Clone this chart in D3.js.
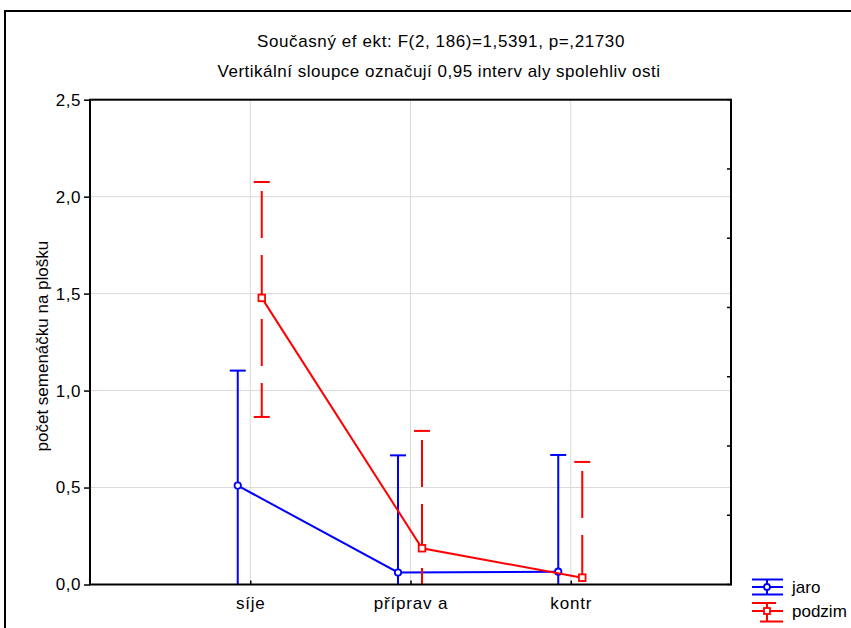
<!DOCTYPE html>
<html>
<head>
<meta charset="utf-8">
<script src="https://cdn.jsdelivr.net/npm/d3@7"></script>
<style>
  html, body { margin: 0; padding: 0; background: #fff; }
  svg { display: block; }
  text { font-family: "Liberation Sans", Arial, sans-serif; fill: #000; }
</style>
</head>
<body>
<svg id="chart" width="851" height="628"></svg>
<script>
// ---- data ----
const titleLines = ["Současný ef ekt: F(2, 186)=1,5391, p=,21730",
                    "Vertikální sloupce označují 0,95 interv aly  spolehliv osti"];
const yLabel = "počet semenáčku na plošku";
const categories = ["síje", "příprav a", "kontr"];
const yTicks = [0, 0.5, 1.0, 1.5, 2.0, 2.5];
const seriesNames = ["jaro", "podzim"];
const jaroMean  = [0.51, 0.062, 0.066];
const jaroLow   = [-0.083, -0.542, -0.536];
const jaroHigh  = [1.103, 0.666, 0.668];
const podzimMean = [1.478, 0.187, 0.035];
const podzimLow  = [0.864, -0.418, -0.562];
const podzimHigh = [2.076, 0.792, 0.632];
const rightTickIntervals = 7;

// ---- layout ----
const svg = d3.select("#chart");
const L = 90, R = 731, T = 99.7, B = 584.5;
const FONT = "Liberation Sans, Arial, sans-serif";
const x = d3.scalePoint().domain(categories).range([L, R]).padding(1);
const y = d3.scaleLinear().domain([0, 2.5]).range([B, T]);
const fmt = d => d.toFixed(1).replace(".", ",");

const series = [
  {name: seriesNames[0], mean: jaroMean, low: jaroLow, high: jaroHigh, color: "#0000ff", dx: -12.5, dash: null, marker: "circle"},
  {name: seriesNames[1], mean: podzimMean, low: podzimLow, high: podzimHigh, color: "#ff0000", dx: 11.5, dash: "47,17", marker: "square"}
];

// outer frame
svg.append("rect").attr("x", 5).attr("y", 11).attr("width", 900).attr("height", 700)
  .attr("fill", "none").attr("stroke", "#000").attr("stroke-width", 2);

// titles
svg.append("text").attr("x", 441).attr("y", 47).attr("text-anchor", "middle")
  .attr("font-size", 17).attr("letter-spacing", 0.6).text(titleLines[0]);
svg.append("text").attr("x", 439).attr("y", 77).attr("text-anchor", "middle")
  .attr("font-size", 17).attr("letter-spacing", 0.5).text(titleLines[1]);

// gridlines
svg.append("g").selectAll("line").data(yTicks.filter(d => d > 0 && d < 2.5)).join("line")
  .attr("x1", L).attr("x2", R).attr("y1", d => y(d)).attr("y2", d => y(d))
  .attr("stroke", "#d9d9d9").attr("stroke-width", 1);
svg.append("g").selectAll("line").data(categories).join("line")
  .attr("x1", d => x(d)).attr("x2", d => x(d)).attr("y1", T).attr("y2", B)
  .attr("stroke", "#d9d9d9").attr("stroke-width", 1);

// left axis
const yAxis = d3.axisLeft(y).tickValues(yTicks).tickFormat(fmt).tickSize(6).tickPadding(3);
const gy = svg.append("g").attr("transform", `translate(${L},0)`).call(yAxis);
gy.select(".domain").remove();
gy.selectAll("line").attr("stroke", "#000").attr("stroke-width", 1.5);
gy.selectAll("text").attr("font-size", 17).attr("letter-spacing", 0.5).style("font-family", FONT);

// bottom axis (inner ticks)
const xAxis = d3.axisBottom(x).tickSize(-4).tickPadding(12);
const gx = svg.append("g").attr("transform", `translate(0,${B})`).call(xAxis);
gx.select(".domain").remove();
gx.selectAll("line").attr("stroke", "#000").attr("stroke-width", 1.5);
gx.selectAll("text").attr("font-size", 17).attr("letter-spacing", 0.8).style("font-family", FONT);

// right axis ticks (inner)
const rightVals = d3.range(rightTickIntervals + 1).map(i => 2.5 * i / rightTickIntervals);
svg.append("g").selectAll("line").data(rightVals).join("line")
  .attr("x1", R - 4).attr("x2", R).attr("y1", d => y(d)).attr("y2", d => y(d))
  .attr("stroke", "#000").attr("stroke-width", 1.5);

// y label
svg.append("text").attr("transform", `translate(48,${(T + B) / 2 + 4}) rotate(-90)`)
  .attr("text-anchor", "middle").attr("font-size", 17).text(yLabel);

// clip
svg.append("clipPath").attr("id", "plotclip").append("rect")
  .attr("x", L).attr("y", T - 20).attr("width", R - L).attr("height", B - T + 20);

const plot = svg.append("g").attr("clip-path", "url(#plotclip)");

series.forEach(s => {
  const g = plot.append("g");
  const px = i => x(categories[i]) + s.dx;
  // error bars
  categories.forEach((c, i) => {
    g.append("line").attr("x1", px(i)).attr("x2", px(i))
      .attr("y1", y(s.high[i])).attr("y2", y(s.low[i]))
      .attr("stroke", s.color).attr("stroke-width", 2)
      .attr("stroke-dasharray", s.dash).attr("stroke-dashoffset", s.dash ? 55 : null);
    [s.high[i], s.low[i]].forEach(v => {
      g.append("line").attr("x1", px(i) - 8).attr("x2", px(i) + 8)
        .attr("y1", y(v)).attr("y2", y(v)).attr("stroke", s.color).attr("stroke-width", 2);
    });
  });
  // mean line
  g.append("path").datum(s.mean)
    .attr("d", d3.line().x((d, i) => px(i)).y(d => y(d)))
    .attr("fill", "none").attr("stroke", s.color).attr("stroke-width", 2);
  // markers
  if (s.marker === "circle") {
    g.selectAll("circle").data(s.mean).join("circle")
      .attr("cx", (d, i) => px(i)).attr("cy", d => y(d)).attr("r", 3.2)
      .attr("fill", "#fff").attr("stroke", s.color).attr("stroke-width", 1.8);
  } else {
    g.selectAll("rect").data(s.mean).join("rect")
      .attr("x", (d, i) => px(i) - 3.3).attr("y", d => y(d) - 3.3)
      .attr("width", 6.6).attr("height", 6.6)
      .attr("fill", "#fff").attr("stroke", s.color).attr("stroke-width", 1.8);
  }
});

// plot frame
svg.append("rect").attr("x", L).attr("y", T).attr("width", R - L).attr("height", B - T)
  .attr("fill", "none").attr("stroke", "#000").attr("stroke-width", 2);

// legend
const lg = svg.append("g");
const lx = 767;
[579.5, 587, 594.5].forEach(yy => lg.append("line").attr("x1", 752).attr("x2", 783)
  .attr("y1", yy).attr("y2", yy).attr("stroke", "#0000ff").attr("stroke-width", 2));
lg.append("line").attr("x1", lx).attr("x2", lx).attr("y1", 579.5).attr("y2", 594.5)
  .attr("stroke", "#0000ff").attr("stroke-width", 2);
lg.append("circle").attr("cx", lx).attr("cy", 587).attr("r", 3).attr("fill", "#fff")
  .attr("stroke", "#0000ff").attr("stroke-width", 1.8);
lg.append("text").attr("x", 792).attr("y", 593).attr("font-size", 17).text(seriesNames[0]);
lg.append("line").attr("x1", 752).attr("x2", 776).attr("y1", 603).attr("y2", 603)
  .attr("stroke", "#ff0000").attr("stroke-width", 2);
lg.append("line").attr("x1", 752).attr("x2", 783).attr("y1", 611).attr("y2", 611)
  .attr("stroke", "#ff0000").attr("stroke-width", 2);
lg.append("line").attr("x1", 760).attr("x2", 783).attr("y1", 621.5).attr("y2", 621.5)
  .attr("stroke", "#ff0000").attr("stroke-width", 2);
lg.append("line").attr("x1", lx).attr("x2", lx).attr("y1", 603).attr("y2", 621.5)
  .attr("stroke", "#ff0000").attr("stroke-width", 2);
lg.append("rect").attr("x", lx - 3).attr("y", 608).attr("width", 6).attr("height", 6)
  .attr("fill", "#fff").attr("stroke", "#ff0000").attr("stroke-width", 1.8);
lg.append("text").attr("x", 792).attr("y", 617).attr("font-size", 17).text(seriesNames[1]);
</script>
</body>
</html>
